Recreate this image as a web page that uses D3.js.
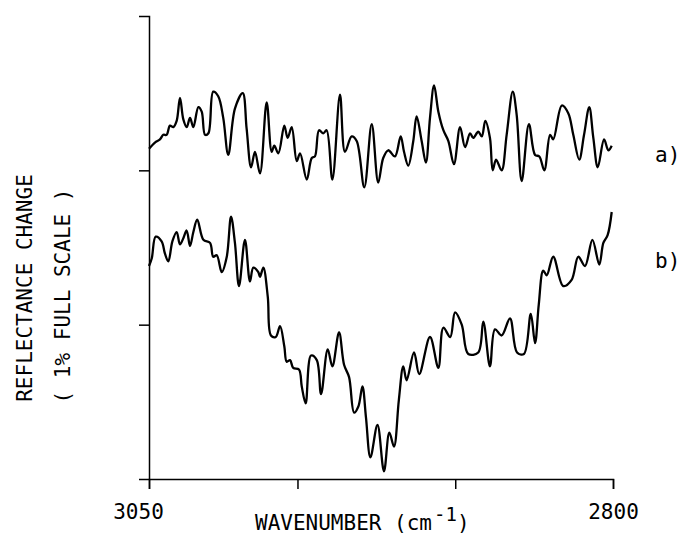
<!DOCTYPE html>
<html>
<head>
<meta charset="utf-8">
<script src="https://cdn.jsdelivr.net/npm/d3@7"></script>
<style>
  body { margin: 0; background: #fff; }
  svg { display: block; font-family: "DejaVu Sans Mono", monospace; }
</style>
</head>
<body>
<svg id="chart" width="679" height="537"></svg>
<script>
// spectrum a) - wavenumber (cm-1) / reflectance change (tick units)
const wavenumbersA = [3050.0,3046.8,3044.1,3042.3,3040.5,3038.7,3036.9,3035.1,3033.3,3031.5,3029.7,3027.9,3026.1,3023.4,3021.6,3019.8,3018.0,3015.4,3012.7,3010.0,3007.3,3003.7,2999.5,2997.4,2995.0,2992.9,2990.2,2986.6,2983.9,2982.5,2980.3,2977.1,2975.3,2973.1,2970.4,2968.6,2965.0,2962.3,2960.6,2958.4,2956.1,2954.3,2951.2,2947.1,2944.4,2940.8,2938.1,2934.0,2930.0,2926.5,2923.8,2921.1,2917.5,2914.4,2912.6,2910.3,2907.6,2905.8,2903.1,2900.8,2898.6,2896.4,2894.1,2891.4,2888.7,2885.7,2882.4,2879.7,2877.0,2875.3,2872.6,2870.7,2868.8,2866.3,2864.8,2863.0,2860.0,2857.3,2854.0,2851.9,2849.2,2845.3,2842.0,2839.7,2837.0,2833.9,2832.2,2827.6,2824.1,2821.4,2818.2,2815.6,2812.8,2810.6,2808.2,2804.8,2802.5,2800.7];
const valuesA = [2.14,2.18,2.20,2.23,2.23,2.29,2.28,2.32,2.47,2.33,2.28,2.34,2.28,2.41,2.38,2.23,2.24,2.51,2.48,2.34,2.10,2.40,2.50,2.27,2.02,2.12,1.98,2.44,2.12,2.16,2.11,2.29,2.21,2.28,2.06,2.11,1.94,2.08,2.09,2.26,2.24,2.26,1.94,2.49,2.12,2.22,2.19,1.89,2.30,1.92,2.08,2.13,2.09,2.22,2.12,2.03,2.19,2.35,2.19,2.05,2.34,2.55,2.38,2.26,2.19,2.04,2.28,2.15,2.24,2.21,2.25,2.22,2.32,2.21,2.00,2.07,2.00,2.23,2.51,2.36,1.93,2.30,2.10,2.09,2.00,2.23,2.20,2.42,2.37,2.23,2.07,2.23,2.41,2.21,2.02,2.20,2.13,2.16];

// spectrum b)
const wavenumbersB = [3050.0,3048.5,3046.4,3043.2,3041.4,3039.6,3037.4,3035.1,3033.3,3031.5,3029.7,3027.9,3026.1,3024.0,3020.7,3017.1,3015.4,3013.5,3010.8,3008.1,3005.8,3003.7,3001.5,2998.3,2995.6,2993.8,2991.1,2990.2,2988.4,2986.0,2984.3,2981.7,2979.4,2977.1,2975.8,2974.0,2972.3,2969.2,2967.7,2965.6,2962.7,2959.6,2957.3,2953.7,2951.2,2947.6,2944.9,2942.2,2939.5,2937.2,2935.0,2933.1,2930.7,2926.9,2923.4,2920.5,2918.0,2915.4,2913.0,2911.2,2907.2,2904.4,2898.6,2894.1,2891.4,2887.7,2885.1,2881.5,2878.0,2872.6,2869.9,2866.3,2863.6,2860.0,2855.5,2851.7,2848.0,2844.3,2842.0,2840.0,2837.6,2835.7,2832.2,2826.8,2822.3,2818.7,2815.1,2811.1,2807.4,2805.2,2802.9,2800.7];
const valuesB = [1.38,1.43,1.57,1.54,1.46,1.41,1.54,1.60,1.52,1.56,1.61,1.51,1.60,1.68,1.55,1.53,1.44,1.45,1.34,1.44,1.70,1.53,1.25,1.55,1.28,1.37,1.34,1.31,1.37,1.18,0.93,0.92,0.99,0.86,0.76,0.77,0.72,0.71,0.60,0.49,0.80,0.77,0.55,0.84,0.73,0.95,0.74,0.66,0.43,0.47,0.60,0.40,0.14,0.35,0.05,0.30,0.21,0.51,0.73,0.64,0.82,0.68,0.92,0.72,0.98,0.92,1.08,1.00,0.81,0.82,1.02,0.73,0.97,0.93,1.04,0.82,0.81,1.07,0.88,1.13,1.35,1.32,1.44,1.25,1.29,1.44,1.38,1.55,1.39,1.53,1.58,1.73];

const xTicks = [3050, 2970, 2885, 2800];
const xTickLabels = ['3050', '', '', '2800'];
const yTicks = [1, 2];
const seriesLabels = ['a)', 'b)'];

const svg = d3.select('#chart');
const fontSize = 21;

const x = d3.scaleLinear().domain([3050, 2800]).range([149, 613]);
const y = d3.scaleLinear().domain([0, 3]).range([479, 16]);

// x axis
const xAxis = svg.append('g')
    .attr('transform', 'translate(0,' + y(0) + ')')
    .call(d3.axisBottom(x)
      .tickValues(xTicks)
      .tickFormat((d, i) => xTickLabels[i])
      .tickSize(10)
      .tickSizeOuter(10)
      .tickPadding(15));

// y axis, no labels
const yAxis = svg.append('g')
    .attr('transform', 'translate(' + x(3050) + ',0)')
    .call(d3.axisLeft(y)
      .tickValues(yTicks)
      .tickFormat('')
      .tickSize(10)
      .tickSizeOuter(10));

[xAxis, yAxis].forEach(g => {
  g.attr('font-family', null).attr('font-size', null);
  g.selectAll('.domain, line').attr('stroke', '#000').attr('stroke-width', 1.5);
  g.selectAll('text')
    .attr('fill', '#000')
    .style('font-size', fontSize + 'px');
});
xAxis.selectAll('.tick text').filter(d => d === 3050).attr('dx', -11);

// spectra
const line = d3.line()
    .x(d => x(d[0]))
    .y(d => y(d[1]))
    .curve(d3.curveCatmullRom.alpha(0.5));

const series = [
  d3.zip(wavenumbersA, valuesA),
  d3.zip(wavenumbersB, valuesB)
];

svg.append('g').selectAll('path')
    .data(series)
  .enter().append('path')
    .attr('d', line)
    .attr('fill', 'none')
    .attr('stroke', '#000')
    .attr('stroke-width', 2.3)
    .attr('stroke-linejoin', 'round');

// series labels
svg.selectAll('.series-label')
    .data(seriesLabels)
  .enter().append('text')
    .attr('class', 'series-label')
    .attr('x', 655)
    .attr('y', (d, i) => [162, 268][i])
    .style('font-size', fontSize + 'px')
    .text(d => d);

// axis titles
const xTitle = svg.append('text')
    .attr('x', 255)
    .attr('y', 530)
    .style('font-size', fontSize + 'px');
xTitle.append('tspan').text('WAVENUMBER (cm');
xTitle.append('tspan').attr('dx', 2).attr('dy', -9).style('font-size', '19px').text('-1');
xTitle.append('tspan').attr('dy', 9).text(')');

svg.append('text')
    .attr('transform', 'translate(32,288) rotate(-90)')
    .attr('text-anchor', 'middle')
    .style('font-size', fontSize + 'px')
    .text('REFLECTANCE CHANGE');

svg.append('text')
    .attr('transform', 'translate(70,296) rotate(-90)')
    .attr('text-anchor', 'middle')
    .style('font-size', fontSize + 'px')
    .text('( 1% FULL SCALE )');
</script>
</body>
</html>
